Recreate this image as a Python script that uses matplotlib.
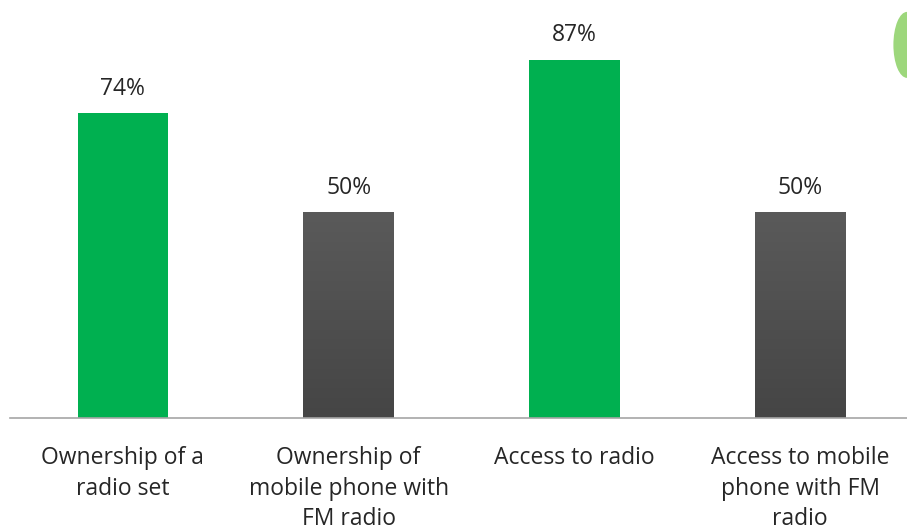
import numpy as np
import matplotlib
matplotlib.use("Agg")
import matplotlib.pyplot as plt
from matplotlib.patches import Ellipse
from matplotlib.colors import LinearSegmentedColormap

categories = ["Ownership of a\nradio set",
              "Ownership of\nmobile phone with\nFM radio",
              "Access to radio",
              "Access to mobile\nphone with FM\nradio"]
values = [74, 50, 87, 50]
kinds = ["green", "grey", "green", "grey"]

plt.rcParams['font.family'] = ['Open Sans', 'DejaVu Sans']

fig = plt.figure(figsize=(9.07, 5.28), dpi=100)
ax = fig.add_axes([10 / 907, 110 / 528, 903 / 907, 412 / 528])

x = np.arange(len(categories))
bars = ax.bar(x, values, width=0.4, color="#00b050", zorder=2)

# grey bars get a soft vertical gradient
grad = np.linspace(0, 1, 256).reshape(-1, 1)
grey_cmap = LinearSegmentedColormap.from_list("g", ["#454545", "#5a5a5a"])
for b, k in zip(bars, kinds):
    if k == "grey":
        b.set_facecolor("none")
        x0, w, h = b.get_x(), b.get_width(), b.get_height()
        im = ax.imshow(grad, cmap=grey_cmap, aspect="auto", origin="lower",
                       extent=[x0, x0 + w, 0, h], zorder=2)
        im.set_clip_path(b)

for xi, v in zip(x, values):
    ax.text(xi, v + 3.0, f"{v}%", ha="center", va="bottom",
            fontsize=16.5, color="#262626")

ax.set_xlim(-0.5, len(categories) - 0.5)
ax.set_ylim(0, 100)
ax.set_xticks(x)
ax.set_xticklabels(categories, fontsize=16.5, color="#262626", linespacing=1.38)
ax.tick_params(axis="x", length=0, pad=20)
ax.set_yticks([])
for s in ["top", "right", "left"]:
    ax.spines[s].set_visible(False)
ax.spines["bottom"].set_color("#a6a6a6")
ax.spines["bottom"].set_linewidth(1.2)

# decorative green shape at the top right corner
fig.patches.append(Ellipse((1.0, 0.915), 0.03, 0.125,
                           transform=fig.transFigure, facecolor="#92d36e",
                           edgecolor="none", alpha=0.9))

fig.savefig("out.png", dpi=100)
